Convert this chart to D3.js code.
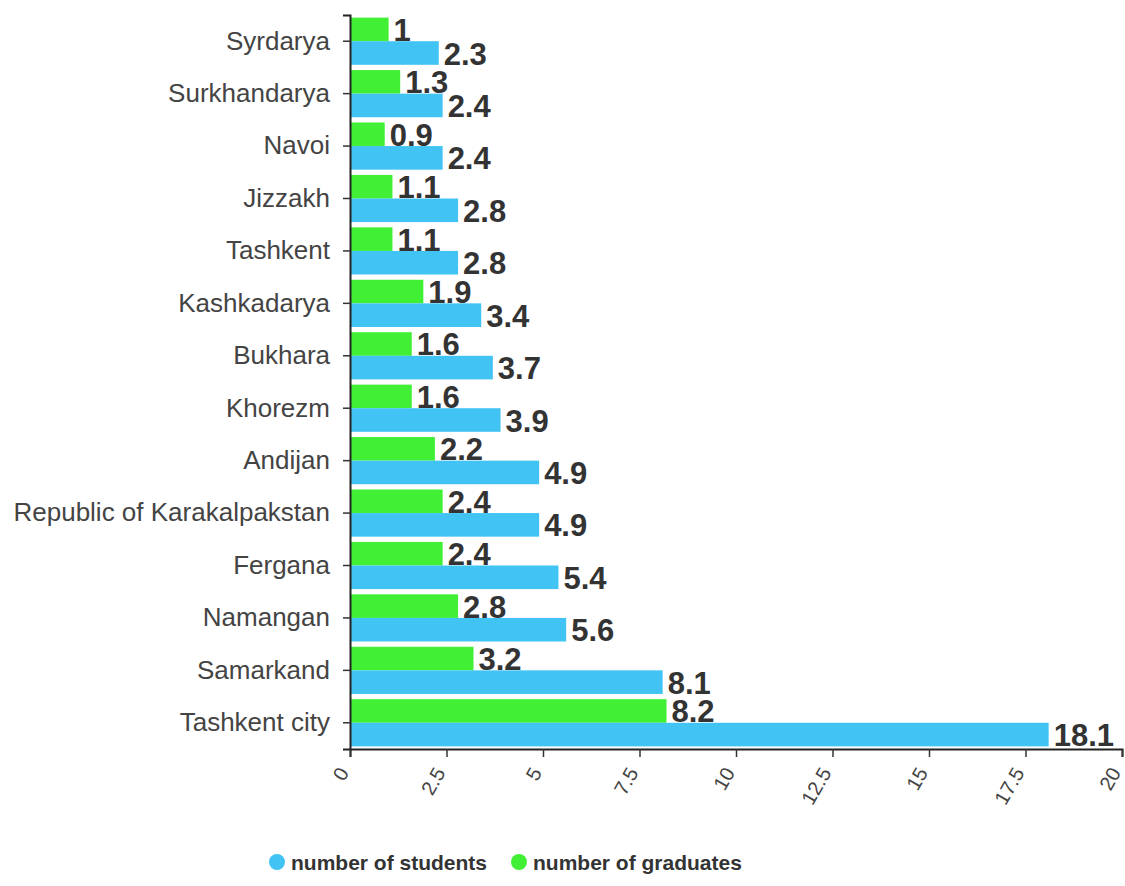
<!DOCTYPE html>
<html>
<head>
<meta charset="utf-8">
<script src="https://cdn.jsdelivr.net/npm/d3@7"></script>
<style>
  body { margin: 0; background: #fff; }
  text { font-family: "Liberation Sans", Arial, sans-serif; }
</style>
</head>
<body>
<script>
var width = 1125,
    height = 886;

// data, top to bottom
var regions = ["Syrdarya", "Surkhandarya", "Navoi", "Jizzakh", "Tashkent", "Kashkadarya",
    "Bukhara", "Khorezm", "Andijan", "Republic of Karakalpakstan", "Fergana",
    "Namangan", "Samarkand", "Tashkent city"];
var students = [2.3, 2.4, 2.4, 2.8, 2.8, 3.4, 3.7, 3.9, 4.9, 4.9, 5.4, 5.6, 8.1, 18.1];
var graduates = [1, 1.3, 0.9, 1.1, 1.1, 1.9, 1.6, 1.6, 2.2, 2.4, 2.4, 2.8, 3.2, 8.2];
var xTicks = [0, 2.5, 5, 7.5, 10, 12.5, 15, 17.5, 20];
var seriesNames = ["number of students", "number of graduates"];
var seriesKeys = ["graduates", "students"];   // order inside each band, top first

var blue = "#41c3f3",
    green = "#41f035";

var rows = regions.map(function(r, i){
    return { region: r, students: students[i], graduates: graduates[i] };
});

var svg = d3.select("body").append("svg")
    .attr("width", width)
    .attr("height", height);

var x = d3.scaleLinear()
    .domain([0, 20])
    .range([350, 1122]);

var y = d3.scaleBand()
    .domain(regions)
    .range([15, 749])
    .paddingInner(0.1)
    .paddingOuter(0.05);

var y1 = d3.scaleBand()
    .domain(seriesKeys)
    .range([0, y.bandwidth()]);

var color = { students: blue, graduates: green };

var groups = svg.append("g").selectAll("g")
    .data(rows)
    .join("g")
    .attr("transform", function(d){ return "translate(0," + y(d.region) + ")"; });

groups.selectAll("rect")
    .data(function(d){ return seriesKeys.map(function(k){ return { key: k, value: d[k] }; }); })
    .join("rect")
    .attr("x", x(0))
    .attr("y", function(d){ return y1(d.key); })
    .attr("width", function(d){ return x(d.value) - x(0); })
    .attr("height", y1.bandwidth())
    .attr("fill", function(d){ return color[d.key]; });

// value labels, drawn after all bars so they sit on top
svg.append("g").selectAll("text")
    .data(rows.flatMap(function(d){
        return seriesKeys.map(function(k){ return { region: d.region, key: k, value: d[k] }; });
    }))
    .join("text")
    .attr("x", function(d){ return x(d.value) + 5; })
    .attr("y", function(d){ return y(d.region) + y1(d.key) + y1.bandwidth() / 2 + 1; })
    .attr("dominant-baseline", "central")
    .attr("font-size", "31px")
    .attr("font-weight", "bold")
    .attr("fill", "#333")
    .text(function(d){ return d.value; });

// y axis
var yAxis = svg.append("g")
    .attr("transform", "translate(" + x(0) + ",0)")
    .call(d3.axisLeft(y).tickSizeOuter(0).tickSize(7).tickPadding(13));
yAxis.select(".domain").attr("stroke", "#222").attr("stroke-width", 2);
yAxis.selectAll(".tick line").attr("stroke", "#333").attr("stroke-width", 1.5);
yAxis.selectAll("text")
    .attr("font-size", "26px")
    .attr("fill", "#444")
    .style("font-family", "Liberation Sans, Arial, sans-serif");

// x axis
var xAxis = svg.append("g")
    .attr("transform", "translate(0,749)")
    .call(d3.axisBottom(x).tickValues(xTicks).tickSizeOuter(0).tickSize(8)
        .tickFormat(function(d){ return d; }));
xAxis.select(".domain").attr("stroke", "#222").attr("stroke-width", 2);
xAxis.selectAll(".tick line").attr("stroke", "#333").attr("stroke-width", 1.5);
xAxis.selectAll("text")
    .attr("font-size", "20px")
    .attr("fill", "#444")
    .style("font-family", "Liberation Sans, Arial, sans-serif")
    .attr("text-anchor", "end")
    .attr("dy", "0.35em")
    .attr("transform", "translate(-7,20) rotate(-60)")
    .attr("x", 0)
    .attr("y", 0);

// legend
var legendX = [277, 519];
var legend = svg.append("g").selectAll("g")
    .data(seriesNames)
    .join("g")
    .attr("transform", function(d, i){ return "translate(" + legendX[i] + ",862)"; });
legend.append("circle")
    .attr("r", 8)
    .attr("fill", function(d, i){ return i == 0 ? blue : green; });
legend.append("text")
    .attr("x", 14)
    .attr("dominant-baseline", "central")
    .attr("font-size", "21px")
    .attr("font-weight", "bold")
    .attr("fill", "#333")
    .text(function(d){ return d; });
</script>
</body>
</html>
